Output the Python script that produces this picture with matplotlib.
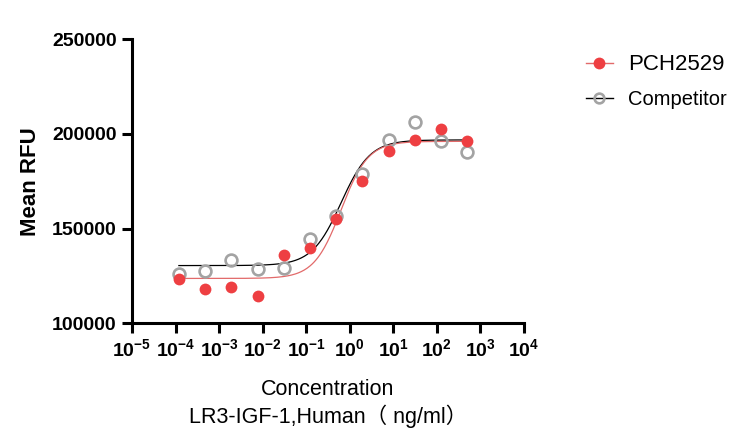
import numpy as np
import matplotlib
matplotlib.use('Agg')
import matplotlib.pyplot as plt
from matplotlib.lines import Line2D

plt.rcParams['font.family'] = ['Liberation Sans', 'Noto Sans CJK SC', 'DejaVu Sans']
plt.rcParams['mathtext.fontset'] = 'custom'
plt.rcParams['mathtext.rm'] = 'Liberation Sans'
plt.rcParams['mathtext.bf'] = 'Liberation Sans:bold'

# concentration (ng/ml), 4-fold dilution series
conc = [0.000119, 0.000477, 0.00191, 0.00763, 0.0305, 0.122,
        0.488, 1.95, 7.81, 31.25, 125, 500]
pch2529 = [123200, 117900, 119100, 114400, 136300, 140000,
           155300, 175000, 191200, 197000, 202600, 196500]
competitor = [125800, 127700, 133700, 128700, 129000, 144700,
              156600, 179000, 197000, 206100, 196100, 190300]

# 4PL fit parameters: bottom, top, log EC50, hill slope
fit_pch = (123700, 196100, -0.2, 1.4)
fit_comp = (130500, 196850, -0.2, 1.3)

xticks = [10.0 ** k for k in range(-5, 5)]
xticklabels = [r'$\mathbf{10^{%d}}$' % k for k in range(-5, 5)]
yticks = [100000, 150000, 200000, 250000]

red = '#EE3F42'
red_line = '#E26A6A'
gray = '#A3A3A3'


def four_pl(x, p):
    bottom, top, logec50, hill = p
    return bottom + (top - bottom) / (1 + 10 ** ((logec50 - np.log10(x)) * hill))


fig = plt.figure(figsize=(7.51, 4.48), dpi=100)
ax = fig.add_axes([0.1758, 0.2783, 0.5219, 0.634])

xfit = np.logspace(np.log10(conc[0]), np.log10(conc[-1]), 300)
ax.plot(xfit, four_pl(xfit, fit_comp), color='black', lw=0.9, zorder=2)
ax.plot(xfit, four_pl(xfit, fit_pch), color=red_line, lw=0.9, zorder=2)

ax.plot(conc, competitor, 'o', ms=8.5, mfc='none', mec=gray, mew=1.9, zorder=3)
ax.plot(conc, pch2529, 'o', ms=8.5, mfc=red, mec=red, mew=0, zorder=4)

ax.set_xscale('log')
ax.set_xlim(1e-5, 1e4)
ax.set_ylim(100000, 250000)
ax.set_xticks(xticks)
ax.set_xticklabels(xticklabels, fontsize=14)
ax.minorticks_off()
ax.set_yticks(yticks)
ax.set_yticklabels([str(v) for v in yticks], fontsize=14, fontweight='bold')

for s in ['top', 'right']:
    ax.spines[s].set_visible(False)
for s in ['left', 'bottom']:
    ax.spines[s].set_linewidth(2.2)
ax.tick_params(axis='both', width=2.2, length=7, pad=4)

ax.set_ylabel('Mean RFU', fontsize=16, fontweight='bold', labelpad=8)
ax.set_xlabel('Concentration\nLR3-IGF-1,Human（ ng/ml）', fontsize=15.5,
              linespacing=1.25, labelpad=13)

handles = [
    Line2D([], [], color=red_line, lw=1, marker='o', ms=8.5, mfc=red, mec=red, mew=0),
    Line2D([], [], color='black', lw=1, marker='o', ms=7, mfc='none', mec=gray, mew=1.9),
]
leg = fig.legend(handles, ['PCH2529', 'Competitor'], loc='upper left',
                 bbox_to_anchor=(0.756, 0.92), frameon=False, fontsize=14.5,
                 handlelength=1.35, labelspacing=0.75, handletextpad=0.75)
leg.get_texts()[0].set_fontsize(16)

fig.savefig('out.png', dpi=100)
